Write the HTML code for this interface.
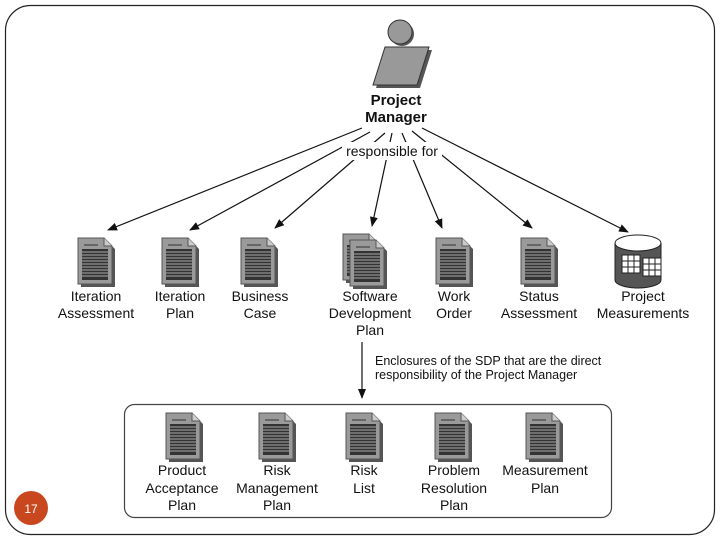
<!DOCTYPE html>
<html><head><style>
body{margin:0;background:#fff}
svg{display:block}
text{font-family:"Liberation Sans",sans-serif;font-size:14px;fill:#111}
</style></head><body>
<svg width="720" height="540" viewBox="0 0 720 540">
<defs>
<marker id="ah" markerWidth="10" markerHeight="8" refX="9" refY="4" orient="auto" markerUnits="userSpaceOnUse">
<path d="M0,0 L10,4 L0,8 Z" fill="#111"/></marker>
<g id="doc">
<path d="M3,3 H29 L37,11 V49 H3 Z" fill="#555"/>
<path d="M0,0 H26 L34,8 V46 H0 Z" fill="#9a9a9a" stroke="#555" stroke-width="1"/>
<path d="M26,0 V8 H34" fill="#ccc" stroke="#555"/>
<rect x="4" y="11" width="26" height="31" fill="#333"/>
<g stroke="#aaa" stroke-width="1">
<line x1="4" y1="14" x2="30" y2="14"/><line x1="4" y1="17" x2="30" y2="17"/><line x1="4" y1="20" x2="30" y2="20"/><line x1="4" y1="23" x2="30" y2="23"/><line x1="4" y1="26" x2="30" y2="26"/><line x1="4" y1="29" x2="30" y2="29"/><line x1="4" y1="32" x2="30" y2="32"/><line x1="4" y1="35" x2="30" y2="35"/><line x1="4" y1="38" x2="30" y2="38"/>
</g>
<line x1="6" y1="7" x2="20" y2="7" stroke="#333"/>
</g>
</defs>
<rect x="5.5" y="5.5" width="709" height="529" rx="25" fill="none" stroke="#222" stroke-width="1.2"/>
<circle cx="402" cy="34" r="12" fill="#555"/>
<circle cx="400" cy="32" r="12" fill="#999" stroke="#333"/>
<path d="M388,50 H432 L420,88 H376 Z" fill="#555"/>
<path d="M385,47 H429 L417,85 H373 Z" fill="#999" stroke="#333"/>
<text x="396" y="105" text-anchor="middle" style="font-weight:bold;font-size:15px">Project</text>
<text x="396" y="122" text-anchor="middle" style="font-weight:bold;font-size:15px">Manager</text>
<g stroke="#111" stroke-width="1.2" fill="none" marker-end="url(#ah)">
<line x1="362" y1="128" x2="108" y2="230"/>
<line x1="370" y1="132" x2="190" y2="230"/>
<line x1="385" y1="133" x2="275" y2="228"/>
<line x1="392" y1="133" x2="372" y2="226"/>
<line x1="402" y1="133" x2="442" y2="228"/>
<line x1="412" y1="131" x2="532" y2="228"/>
<line x1="422" y1="128" x2="628" y2="232"/>
<line x1="362" y1="342" x2="362" y2="398"/>
</g>
<rect x="342" y="142" width="100" height="18" fill="#fff"/>
<text x="392" y="156" text-anchor="middle">responsible for</text>
<use href="#doc" x="78" y="238"/>
<use href="#doc" x="162" y="238"/>
<use href="#doc" x="241" y="238"/>
<use href="#doc" x="343" y="234"/>
<use href="#doc" x="350" y="240"/>
<use href="#doc" x="436" y="238"/>
<use href="#doc" x="521" y="238"/>
<path d="M615,243 V280 A23,8 0 0 0 661,280 V243" fill="#555" stroke="#222"/>
<ellipse cx="638" cy="243" rx="23" ry="8" fill="#fff" stroke="#222"/>
<rect x="622" y="255" width="18" height="18" fill="#fff" stroke="#222"/>
<rect x="643" y="258" width="18" height="18" fill="#fff" stroke="#222"/>
<g stroke="#222"><line x1="622" y1="261" x2="640" y2="261"/><line x1="622" y1="267" x2="640" y2="267"/><line x1="628" y1="255" x2="628" y2="273"/><line x1="634" y1="255" x2="634" y2="273"/>
<line x1="643" y1="264" x2="661" y2="264"/><line x1="643" y1="270" x2="661" y2="270"/><line x1="649" y1="258" x2="649" y2="276"/><line x1="655" y1="258" x2="655" y2="276"/></g>
<g text-anchor="middle">
<text x="96" y="301">Iteration</text><text x="96" y="318">Assessment</text>
<text x="180" y="301">Iteration</text><text x="180" y="318">Plan</text>
<text x="260" y="301">Business</text><text x="260" y="318">Case</text>
<text x="370" y="301">Software</text><text x="370" y="318">Development</text><text x="370" y="335">Plan</text>
<text x="454" y="301">Work</text><text x="454" y="318">Order</text>
<text x="539" y="301">Status</text><text x="539" y="318">Assessment</text>
<text x="643" y="301">Project</text><text x="643" y="318">Measurements</text>
</g>
<text x="375" y="365" style="font-size:12.5px">Enclosures of the SDP that are the direct</text>
<text x="375" y="379" style="font-size:12.5px">responsibility of the Project Manager</text>
<rect x="124.5" y="404.5" width="487" height="113" rx="10" fill="none" stroke="#444" stroke-width="1.2"/>
<use href="#doc" x="166" y="413"/>
<use href="#doc" x="259" y="413"/>
<use href="#doc" x="346" y="413"/>
<use href="#doc" x="435" y="413"/>
<use href="#doc" x="526" y="413"/>
<g text-anchor="middle">
<text x="182" y="475">Product</text><text x="182" y="493">Acceptance</text><text x="182" y="510">Plan</text>
<text x="277" y="475">Risk</text><text x="277" y="493">Management</text><text x="277" y="510">Plan</text>
<text x="364" y="475">Risk</text><text x="364" y="493">List</text>
<text x="454" y="475">Problem</text><text x="454" y="493">Resolution</text><text x="454" y="510">Plan</text>
<text x="545" y="475">Measurement</text><text x="545" y="493">Plan</text>
</g>
<circle cx="31" cy="508" r="17" fill="#c9471f"/>
<text x="31" y="513" text-anchor="middle" style="font-size:12px;fill:#fff">17</text>
</svg>
</body></html>
